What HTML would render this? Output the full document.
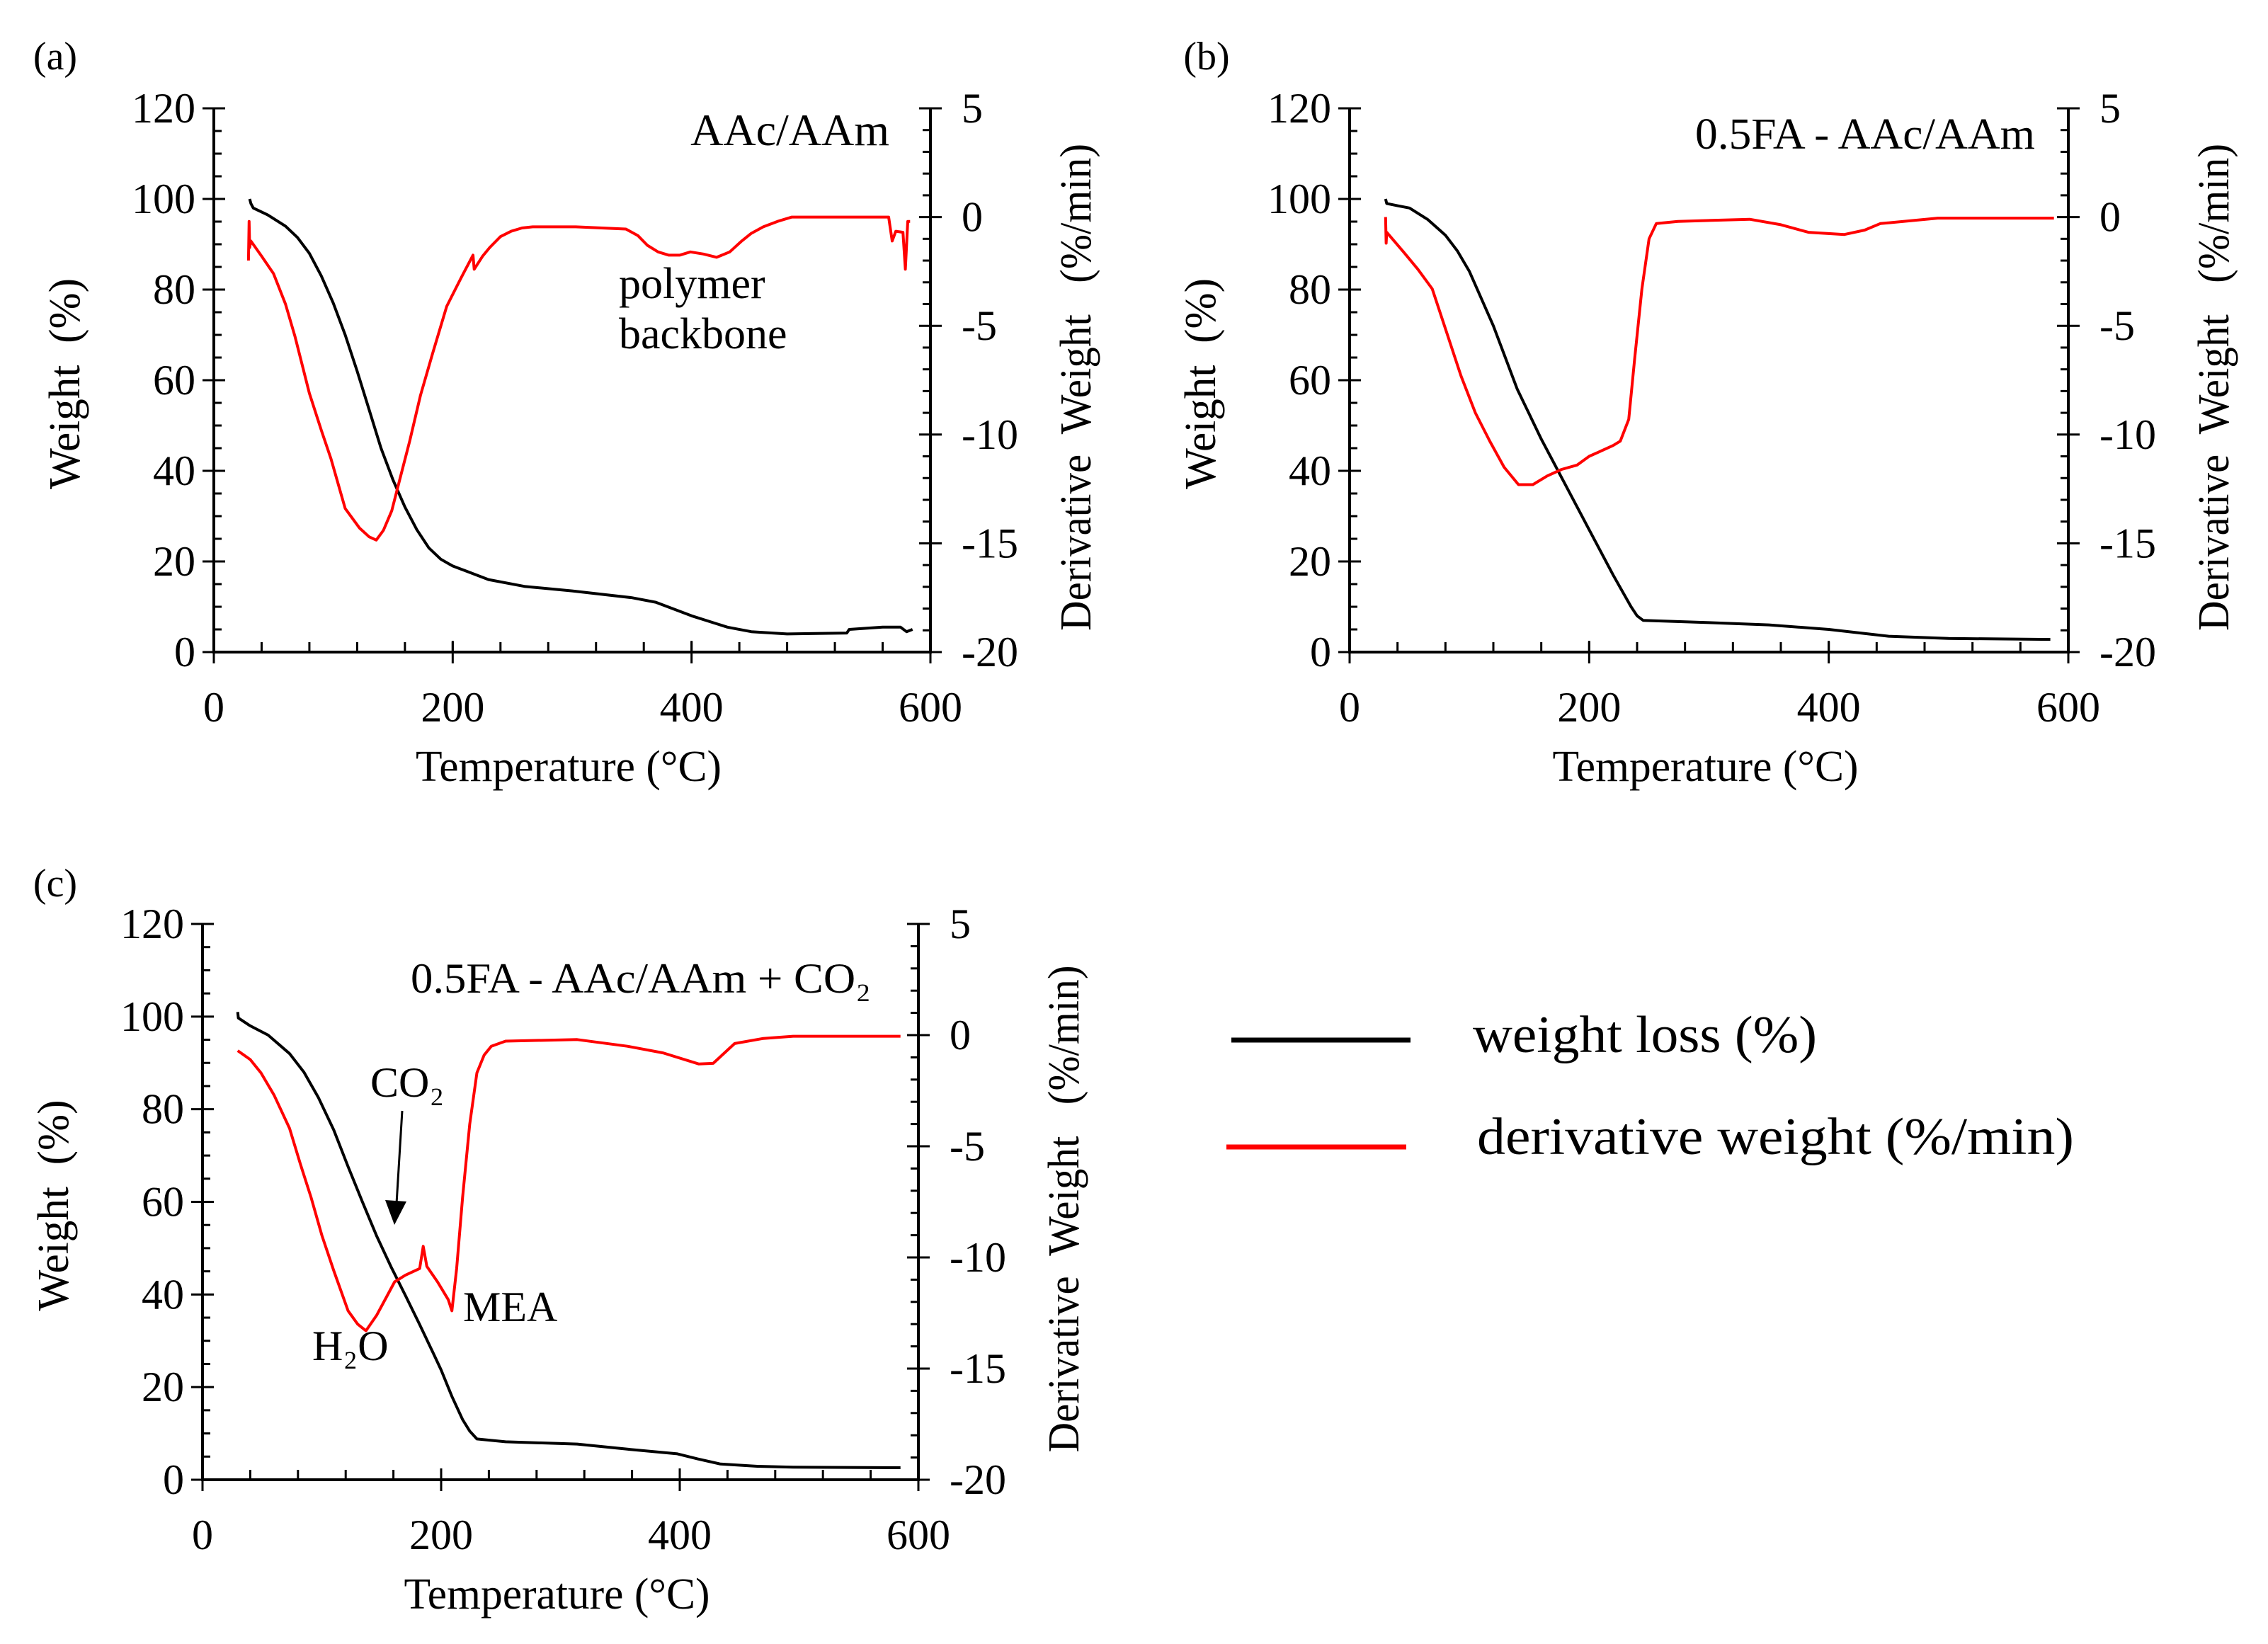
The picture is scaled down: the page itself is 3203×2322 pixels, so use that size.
<!DOCTYPE html>
<html><head><meta charset="utf-8">
<style>
html,body{margin:0;padding:0;background:#fff;}
svg{display:block;font-family:"Liberation Serif",serif;}
text{white-space:pre;}
</style></head>
<body>
<svg id="fig" width="3203" height="2322" viewBox="0 0 3203 2322" xmlns="http://www.w3.org/2000/svg">
<rect width="3203" height="2322" fill="#fff"/>
</svg>
<script>
// ---- data (temperature °C, weight %, derivative %/min) ----
const xTicks = [0, 200, 400, 600];
const wTicks = [0, 20, 40, 60, 80, 100, 120];
const dTicks = [-20, -15, -10, -5, 0, 5];

const aWeightT = [30,31,33,45,60,70,80,90,100,110,120,130,140,150,160,170,180,190,200,205,210,230,260,300,350,370,400,430,450,480,530,532,560,575,580,585];
const aWeightV = [100,99,98,96.5,94,91.5,88,83,77,70,62,53.5,45,38,32,27,23,20.5,19,18.5,18,16,14.5,13.5,12,11,8,5.5,4.5,4,4.2,5,5.5,5.5,4.5,5];
const aDerivT = [29,29.5,30,31,40,50,60,68,80,90,98,110,122,130,136,142,149,156,164,173,183,195,207,217,218,225,231,240,249,258,267,303,345,355,363,372,381,390,399,410,421,432,442,450,460,472,484,565,568,571,577,579,581,583];
const aDerivV = [-2,-0.2,-1.4,-1.1,-1.8,-2.6,-4.0,-5.5,-8.1,-9.8,-11.1,-13.4,-14.3,-14.7,-14.85,-14.4,-13.5,-12.0,-10.3,-8.2,-6.3,-4.1,-2.8,-1.75,-2.4,-1.8,-1.4,-0.9,-0.65,-0.5,-0.45,-0.45,-0.55,-0.85,-1.3,-1.6,-1.75,-1.75,-1.6,-1.7,-1.85,-1.6,-1.1,-0.75,-0.45,-0.2,0,0,-1.1,-0.65,-0.7,-2.4,-0.2,-0.2];

const bWeightT = [30,31,40,50,65,80,90,100,110,120,130,140,150,160,180,200,220,235,240,245,300,350,400,450,500,585];
const bWeightV = [100,99,98.5,98,95.5,92,88.5,84,78,72,65,58,52.5,47,37,27,17,10,8,7,6.5,6,5,3.5,3,2.8];
const bDerivT = [30,30.5,31,45,57,69,81,93,105,117,129,141,153,165,177,190,200,208,220,226,233,238,244,250,256,274,334,360,383,413,430,443,491,588];
const bDerivV = [0,-1.2,-0.7,-1.6,-2.4,-3.3,-5.3,-7.3,-9.0,-10.3,-11.5,-12.3,-12.3,-11.9,-11.6,-11.4,-11.0,-10.8,-10.5,-10.3,-9.3,-6.5,-3.3,-1.0,-0.3,-0.2,-0.1,-0.35,-0.7,-0.8,-0.6,-0.3,-0.05,-0.05];

const cWeightT = [29.5,30,40,55,73,85,97,110,122,134,146,158,170,182,194,200,209,218,224,230,254,314,356,398,415,434,465,495,585];
const cWeightV = [101,99.7,98,96,92,88,82.6,75.5,67.6,60,52.6,46,39.8,33.5,27,23.7,18,13,10.5,8.8,8.2,7.7,6.6,5.6,4.5,3.4,2.9,2.7,2.6];
const cDerivT = [29.5,40,49,60,73,82,91,100,110,122,130,137,146,154,161,170,182,185,188,197,206,209,213,218,224,230,236,242,254,314,356,386,416,428,446,470,495,585];
const cDerivV = [-0.7,-1.1,-1.7,-2.7,-4.2,-5.8,-7.3,-9.0,-10.6,-12.4,-13.0,-13.3,-12.6,-11.8,-11.1,-10.8,-10.5,-9.5,-10.4,-11.1,-11.9,-12.4,-10.5,-7.3,-4.0,-1.7,-0.9,-0.5,-0.27,-0.2,-0.5,-0.8,-1.3,-1.27,-0.38,-0.15,-0.05,-0.05];

const NS = 'http://www.w3.org/2000/svg';
const svg = document.getElementById('fig');
function mk(tag, attrs, parent){
  const e = document.createElementNS(NS, tag);
  for (const k in attrs) e.setAttribute(k, attrs[k]);
  (parent||svg).appendChild(e);
  return e;
}
function txt(s, x, y, size, anchor, parent){
  const t = mk('text', {x:x, y:y, 'font-size':size, 'text-anchor':anchor||'start', fill:'#000'}, parent);
  t.textContent = s;
  return t;
}

function panel(id, box, wT, wV, dT, dV){
  const g = mk('g', {});
  
  
  const sx = v => box.x0 + (v/600)*(box.x1-box.x0);
  const sw = v => box.y1 - (v/120)*(box.y1-box.y0);
  const sd = v => box.y1 - ((v+20)/25)*(box.y1-box.y0);
  const ax = {stroke:'#000','stroke-width':4,fill:'none'};
  const axL = mk('line', Object.assign({x1:box.x0,y1:box.y0,x2:box.x0,y2:box.y1+2}, ax), g);
  
  
  const axR = mk('line', Object.assign({x1:box.x1,y1:box.y0,x2:box.x1,y2:box.y1+2}, ax), g);
  
  
  const axB = mk('line', Object.assign({x1:box.x0-2,y1:box.y1,x2:box.x1+2,y2:box.y1}, ax), g);
  
  
  for (let v=0; v<=120; v+=5){
    const y = sw(v), major = v%20===0;
    mk('line', Object.assign({x1:box.x0-(major?16:0), y1:y, x2:box.x0+(major?16:11), y2:y}, ax, {'stroke-width':3}), g);
  }
  wTicks.forEach(v=>{
    const t = txt(String(v), box.x0-26, sw(v)+20, 60, 'end', g);
    
    
  });
  for (let v=-20; v<=5; v+=1){
    const y = sd(v), major = v%5===0;
    mk('line', Object.assign({x1:box.x1-(major?16:11), y1:y, x2:box.x1+(major?16:0), y2:y}, ax, {'stroke-width':3}), g);
  }
  dTicks.forEach(v=>{
    const t = txt(String(v), box.x1+44, sd(v)+20, 60, 'start', g);
    
    
  });
  for (let v=0; v<=600; v+=40){
    const x = sx(v);
    mk('line', Object.assign({x1:x, y1:box.y1-14, x2:x, y2:box.y1}, ax, {'stroke-width':3}), g);
  }
  xTicks.forEach(v=>{
    const x = sx(v);
    mk('line', Object.assign({x1:x, y1:box.y1-16, x2:x, y2:box.y1+16}, ax, {'stroke-width':3}), g);
    const t = txt(String(v), x, box.y1+98, 60, 'middle', g);
    
    
  });
  const xt = txt('Temperature (°C)', (box.x0+box.x1)/2-5, box.y1+182, 62, 'middle', g);
  xt.setAttribute('textLength', '432'); xt.setAttribute('lengthAdjust', 'spacingAndGlyphs');
  
  
  const cy = (box.y0+box.y1)/2;
  const lt = txt('Weight  (%)', 0, 0, 62, 'middle', g);
  lt.setAttribute('transform', `translate(${box.x0-190},${cy+5}) rotate(-90)`);
  lt.setAttribute('textLength', '298'); lt.setAttribute('lengthAdjust', 'spacingAndGlyphs');
  
  
  const rt = txt('Derivative  Weight   (%/min)', 0, 0, 62, 'middle', g);
  rt.setAttribute('transform', `translate(${box.x1+226},${cy+10}) rotate(-90)`);
  rt.setAttribute('textLength', '688'); rt.setAttribute('lengthAdjust', 'spacingAndGlyphs');
  
  
  const wp = wT.map((t,i)=>`${sx(t).toFixed(1)},${sw(wV[i]).toFixed(1)}`).join(' ');
  const wl = mk('polyline', {points:wp, fill:'none', stroke:'#000', 'stroke-width':4, 'stroke-linejoin':'round'}, g);
  
  
  const dp = dT.map((t,i)=>`${sx(t).toFixed(1)},${sd(dV[i]).toFixed(1)}`).join(' ');
  const dl = mk('polyline', {points:dp, fill:'none', stroke:'#ff0000', 'stroke-width':4, 'stroke-linejoin':'round'}, g);
  
  
  return g;
}

const gA = panel('a', {x0:302,x1:1314,y0:153,y1:921}, aWeightT, aWeightV, aDerivT, aDerivV);
const gB = panel('b', {x0:1906,x1:2921,y0:153,y1:921}, bWeightT, bWeightV, bDerivT, bDerivV);
const gC = panel('c', {x0:286,x1:1297,y0:1305,y1:2090}, cWeightT, cWeightV, cDerivT, cDerivV);

let t;
t = txt('(a)', 78, 98, 56, 'middle');  
t = txt('(b)', 1704, 98, 56, 'middle');  
t = txt('(c)', 78, 1266, 56, 'middle');  
t = txt('AAc/AAm', 1256, 205, 64, 'end');  
t = txt('polymer', 874, 421, 62, 'start');  
t = txt('backbone', 874, 492, 62, 'start');  
t = txt('0.5FA - AAc/AAm', 2874, 210, 62, 'end'); t.setAttribute('textLength','480'); t.setAttribute('lengthAdjust','spacingAndGlyphs');  
t = txt('0.5FA - AAc/AAm + CO₂', 1230, 1402, 60, 'end'); t.setAttribute('textLength','650'); t.setAttribute('lengthAdjust','spacingAndGlyphs');  
t = txt('CO₂', 523, 1549, 60, 'start');  
t = txt('H₂O', 441, 1921, 60, 'start');  
t = txt('MEA', 654, 1866, 60, 'start');  
const arr = mk('line', {x1:568, y1:1569, x2:560, y2:1700, stroke:'#000','stroke-width':3});


const head = mk('polygon', {points:'544,1695 574,1697 557,1730', fill:'#000'});



const leg = mk('g', {});


const l1 = mk('line', {x1:1739, y1:1469, x2:1992, y2:1469, stroke:'#000','stroke-width':7}, leg);


const l2 = mk('line', {x1:1732, y1:1620, x2:1986, y2:1620, stroke:'#ff0000','stroke-width':7}, leg);


t = txt('weight loss (%)', 2080, 1486, 74, 'start', leg);
t.setAttribute('textLength','486'); t.setAttribute('lengthAdjust','spacingAndGlyphs');
 
t = txt('derivative weight (%/min)', 2086, 1630, 74, 'start', leg);
t.setAttribute('textLength','843'); t.setAttribute('lengthAdjust','spacingAndGlyphs');
 
</script>
</body></html>
